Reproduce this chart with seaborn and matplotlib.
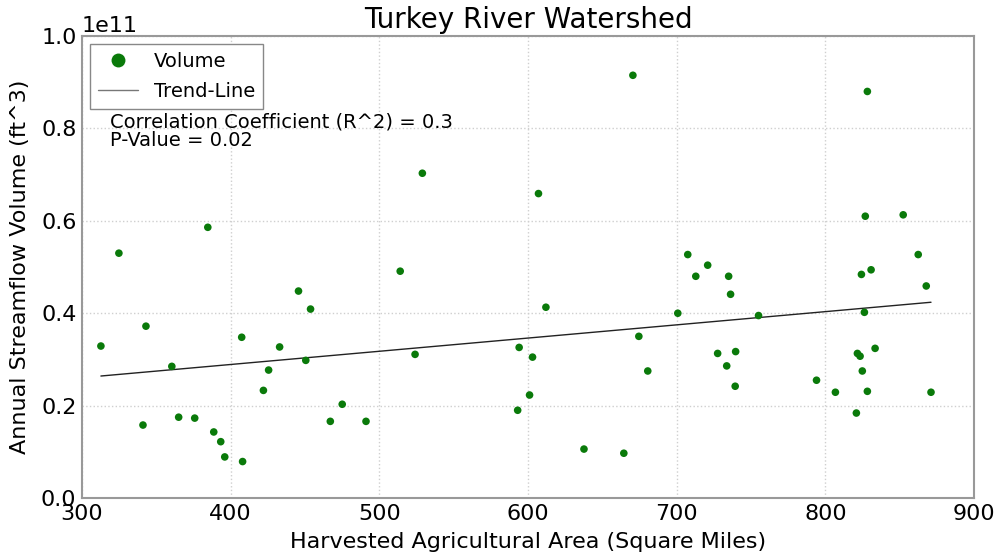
import numpy as np
import pandas as pd
import matplotlib
matplotlib.use("Agg")
import matplotlib.pyplot as plt
from matplotlib.lines import Line2D
import seaborn as sns

# Harvested agricultural area (square miles)
area = [312.7, 324.8, 341.0, 343.0, 360.4, 365.0, 375.8, 384.6, 388.6, 393.3,
        396.0, 407.4, 408.0, 422.0, 425.5, 432.9, 445.6, 450.5, 453.7, 467.0,
        475.0, 491.0, 514.0, 524.0, 528.9, 593.0, 594.0, 601.0, 603.0, 607.0,
        612.0, 637.6, 664.4, 670.5, 674.5, 680.5, 700.7, 707.4, 712.8, 720.8,
        727.5, 733.6, 734.9, 736.2, 739.3, 739.6, 755.0, 794.0, 806.7, 820.8,
        821.5, 823.3, 824.2, 824.8, 826.2, 826.8, 828.2, 828.2, 830.7, 833.4,
        852.3, 862.4, 867.8, 871.0]
# Annual streamflow volume (units of 1e11 ft^3)
volume_e11 = [0.329, 0.530, 0.158, 0.372, 0.285, 0.175, 0.173, 0.586, 0.143, 0.122,
              0.089, 0.348, 0.079, 0.233, 0.277, 0.327, 0.448, 0.298, 0.409, 0.166,
              0.203, 0.166, 0.491, 0.311, 0.703, 0.190, 0.326, 0.223, 0.305, 0.659,
              0.413, 0.106, 0.097, 0.915, 0.350, 0.275, 0.400, 0.527, 0.480, 0.504,
              0.313, 0.286, 0.480, 0.441, 0.242, 0.317, 0.395, 0.255, 0.229, 0.184,
              0.313, 0.307, 0.484, 0.275, 0.402, 0.610, 0.880, 0.231, 0.494, 0.324,
              0.613, 0.527, 0.459, 0.229]

title = "Turkey River Watershed"
xlabel = "Harvested Agricultural Area (Square Miles)"
ylabel = "Annual Streamflow Volume (ft^3)"
x_ticks = [300, 400, 500, 600, 700, 800, 900]
y_ticks_e11 = [0.0, 0.2, 0.4, 0.6, 0.8, 1.0]
legend_labels = ["Volume", "Trend-Line"]
stats_lines = ["Correlation Coefficient (R^2) = 0.3", "P-Value = 0.02"]

df = pd.DataFrame({"area": area, "volume": np.array(volume_e11) * 1e11})

sns.set_style("white")
plt.rcParams["font.family"] = ["DejaVu Sans"]
plt.rcParams.update({"text.color": "black", "axes.labelcolor": "black",
                     "xtick.color": "black", "ytick.color": "black"})

fig = plt.figure(figsize=(9.99, 5.54), dpi=100)
ax = fig.add_axes([0.0821, 0.101, 0.893, 0.834])

sns.scatterplot(data=df, x="area", y="volume", ax=ax, color="#0a7a0a",
                s=30, edgecolor="none", zorder=3)
sns.regplot(data=df, x="area", y="volume", ax=ax, scatter=False, ci=None,
            line_kws=dict(color="#222222", lw=1.0))

ax.set_xlim(300, 900)
ax.set_ylim(0, 1e11)
ax.set_xticks(x_ticks)
ax.set_yticks(np.array(y_ticks_e11) * 1e11)
ax.ticklabel_format(axis="y", style="sci", scilimits=(0, 0), useMathText=False)
ax.tick_params(labelsize=16, length=0, pad=4, colors="black")
ax.yaxis.get_offset_text().set_fontsize(16)
ax.yaxis.get_offset_text().set_color("black")

ax.grid(True, color="#cfcfcf", linestyle=":", linewidth=1.0)
for sp in ax.spines.values():
    sp.set_color("#999999")
    sp.set_linewidth(1.5)

ax.set_title(title, fontsize=20, pad=6, color="black")
ax.set_xlabel(xlabel, fontsize=16, labelpad=6, color="black")
ax.set_ylabel(ylabel, fontsize=16, labelpad=8, color="black")

handles = [Line2D([], [], marker="o", linestyle="none", color="#0a7a0a",
                  markersize=10, markeredgecolor="none"),
           Line2D([], [], color="#777777", lw=1.0)]
leg = ax.legend(handles, legend_labels, loc="upper left", fontsize=14,
                fancybox=False, framealpha=1, edgecolor="#888888", borderpad=0.4,
                handlelength=2.1, handletextpad=0.8, labelspacing=0.6,
                borderaxespad=0.4)
leg.get_frame().set_linewidth(1.0)
for t in leg.get_texts():
    t.set_color("black")

ax.text(0.031, 0.814, stats_lines[0], transform=ax.transAxes, fontsize=14,
        va="center", color="black")
ax.text(0.031, 0.773, stats_lines[1], transform=ax.transAxes, fontsize=14,
        va="center", color="black")

fig.savefig("out.png", dpi=100)
